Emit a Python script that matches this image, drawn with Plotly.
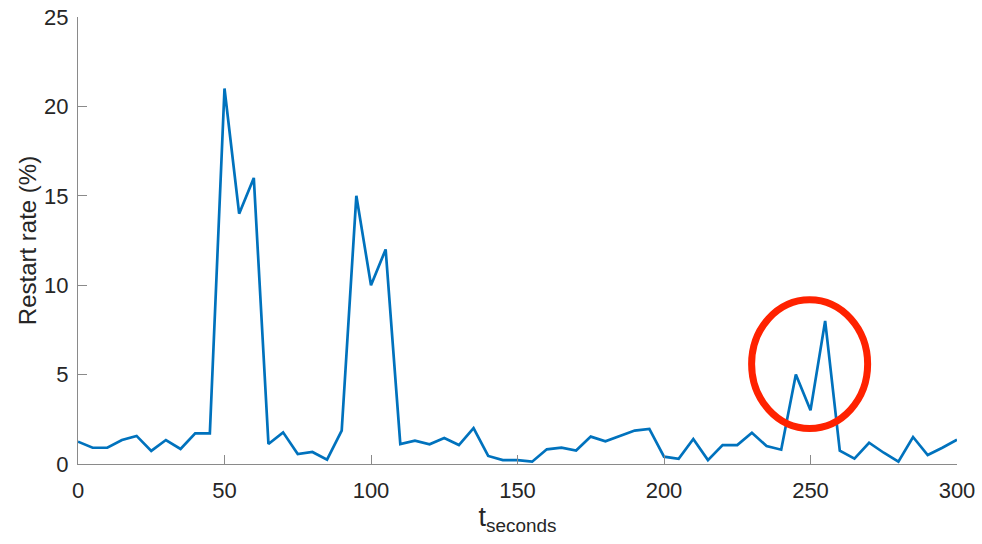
import plotly.graph_objects as go

# Sample times (s) and measured restart rate (%)
t_seconds = [0, 5, 10, 15, 20, 25, 30, 35, 40, 45,
             50, 55, 60, 65, 70, 75, 80, 85, 90, 95,
             100, 105, 110, 115, 120, 125, 130, 135, 140, 145,
             150, 155, 160, 165, 170, 175, 180, 185, 190, 195,
             200, 205, 210, 215, 220, 225, 230, 235, 240, 245,
             250, 255, 260, 265, 270, 275, 280, 285, 290, 295, 300]
restart_rate = [1.25, 0.91, 0.91, 1.34, 1.57, 0.73, 1.34, 0.84, 1.71, 1.71,
                21.0, 14.0, 16.0, 1.12, 1.77, 0.56, 0.67, 0.24, 1.87, 15.0,
                10.0, 12.0, 1.12, 1.31, 1.10, 1.45, 1.06, 2.01, 0.45, 0.22,
                0.22, 0.13, 0.82, 0.91, 0.75, 1.53, 1.27, 1.55, 1.87, 1.96,
                0.41, 0.29, 1.40, 0.22, 1.06, 1.06, 1.75, 1.00, 0.80, 5.0,
                3.0, 8.0, 0.75, 0.30, 1.19, 0.63, 0.13, 1.51, 0.50, 0.91, 1.36]

x_ticks = [0, 50, 100, 150, 200, 250, 300]
y_ticks = [0, 5, 10, 15, 20, 25]

# Highlighted region (ellipse bounds in data units)
highlight_x = [229.9, 269.5]
highlight_y = [1.99, 9.19]

FONT = "Liberation Sans, Arial, Helvetica, sans-serif"
AXIS_GREY = "#8a8a8a"
TEXT = "#262626"

fig = go.Figure()
fig.add_trace(go.Scatter(
    x=t_seconds, y=restart_rate, mode="lines",
    line=dict(color="#0072BD", width=2.7),
    showlegend=False, hoverinfo="x+y",
))

fig.add_shape(
    type="circle", xref="x", yref="y",
    x0=highlight_x[0], x1=highlight_x[1],
    y0=highlight_y[0], y1=highlight_y[1],
    line=dict(color="#FF2200", width=7),
)

axis_common = dict(
    showgrid=False, zeroline=False, showline=True,
    linecolor=AXIS_GREY, linewidth=1.2,
    ticks="inside", ticklen=9, tickwidth=1, tickcolor=AXIS_GREY,
    tickfont=dict(family=FONT, size=22, color=TEXT),
    mirror=False, automargin=False,
)

fig.update_layout(
    width=982, height=544,
    margin=dict(l=78, r=25, t=17, b=80),
    paper_bgcolor="white", plot_bgcolor="white",
    font=dict(family=FONT, color=TEXT),
    xaxis=dict(
        range=[0, 300], tickvals=x_ticks, ticktext=[str(v) for v in x_ticks],
        title=dict(text="t<sub>seconds</sub>",
                   font=dict(family=FONT, size=27, color=TEXT), standoff=2),
        ticklabelstandoff=6,
        **axis_common,
    ),
    yaxis=dict(
        range=[0, 25], tickvals=y_ticks, ticktext=[str(v) for v in y_ticks],
        title=dict(text="Restart rate (%)",
                   font=dict(family=FONT, size=24, color=TEXT), standoff=0),
        ticklabelstandoff=4,
        **axis_common,
    ),
)

fig.write_html("out.html")
